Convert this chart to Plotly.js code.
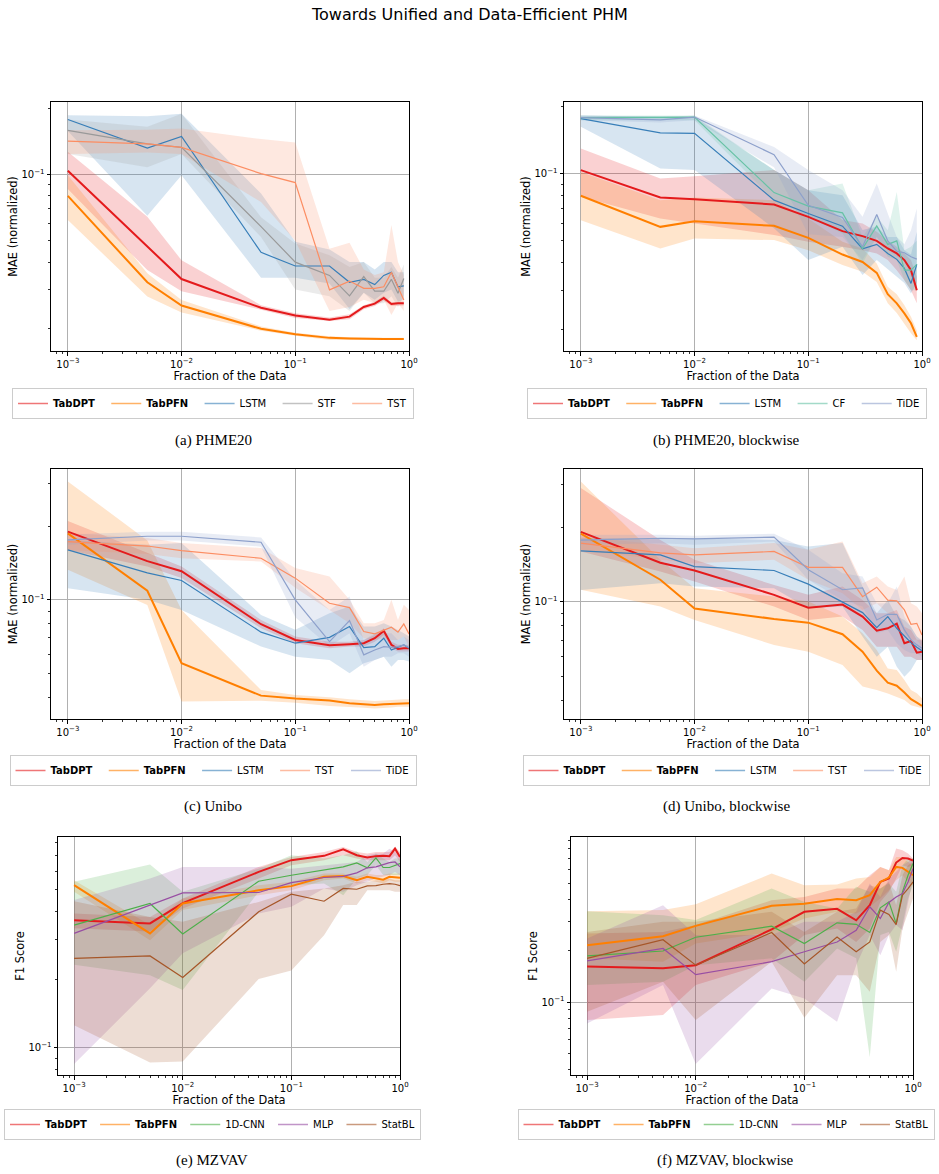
<!DOCTYPE html>
<html>
<head>
<meta charset="utf-8">
<script src="https://cdn.plot.ly/plotly-3.0.1.min.js"></script>
<style>
  html, body { margin: 0; padding: 0; background: #ffffff; }
  #chart { width: 939px; height: 1174px; }
</style>
</head>
<body>
<div id="chart"></div>
<script>
// ---------- data: fraction of training data used ----------
const fracShort = [0.001, 0.005, 0.01, 0.05, 0.1, 0.2, 0.3, 0.4, 0.5, 0.6, 0.7, 0.8, 0.9];
const fracFull  = [0.001, 0.005, 0.01, 0.05, 0.1, 0.2, 0.3, 0.4, 0.5, 0.6, 0.7, 0.8, 0.9, 1.0];

// (a) PHME20 — MAE mean, lower and upper band
const aTabDPT   = [0.104, 0.0473, 0.0335, 0.0248, 0.0229, 0.0219, 0.0226, 0.0250, 0.0259, 0.0275, 0.0258, 0.0260, 0.0260];
const aTabDPTLo = [0.086, 0.0368, 0.0295, 0.0243, 0.0223, 0.0216, 0.0220, 0.0244, 0.0253, 0.0267, 0.0253, 0.0254, 0.0254];
const aTabDPTHi = [0.127, 0.0643, 0.0408, 0.0255, 0.0234, 0.0224, 0.0232, 0.0255, 0.0264, 0.0281, 0.0263, 0.0265, 0.0265];
const aTabPFN   = [0.0800, 0.0324, 0.0254, 0.0199, 0.0188, 0.0181, 0.0180, 0.0179, 0.0179, 0.0179, 0.0179, 0.0179, 0.0179];
const aTabPFNLo = [0.0621, 0.0279, 0.0236, 0.0195, 0.0185, 0.0177, 0.0177, 0.0177, 0.0177, 0.0177, 0.0177, 0.0177, 0.0177];
const aTabPFNHi = [0.0993, 0.0356, 0.0269, 0.0204, 0.0191, 0.0184, 0.0182, 0.0181, 0.0181, 0.0181, 0.0181, 0.0181, 0.0181];
const aLSTM     = [0.178, 0.132, 0.149, 0.0443, 0.0384, 0.0384, 0.0324, 0.0334, 0.0316, 0.0348, 0.0360, 0.0309, 0.0312];
const aLSTMLo   = [0.158, 0.065, 0.0993, 0.0340, 0.0340, 0.0320, 0.0245, 0.0290, 0.0270, 0.0290, 0.0300, 0.0265, 0.0270];
const aLSTMHi   = [0.186, 0.184, 0.189, 0.082, 0.0495, 0.0457, 0.0400, 0.0400, 0.0370, 0.0400, 0.0400, 0.0360, 0.0360];
const aSTF      = [0.159, 0.138, 0.133, 0.058, 0.040, 0.0348, 0.0281, 0.0344, 0.0295, 0.0295, 0.0334, 0.0289, 0.0337];
const aSTFLo    = [0.124, 0.108, 0.124, 0.052, 0.030, 0.028, 0.024, 0.029, 0.026, 0.026, 0.028, 0.025, 0.028];
const aSTFHi    = [0.178, 0.165, 0.189, 0.064, 0.0486, 0.043, 0.038, 0.040, 0.034, 0.034, 0.038, 0.034, 0.039];
const aTST      = [0.142, 0.138, 0.133, 0.101, 0.092, 0.0299, 0.0328, 0.0304, 0.0304, 0.0309, 0.0360, 0.0310, 0.0269];
const aTSTLo    = [0.124, 0.126, 0.124, 0.075, 0.050, 0.0240, 0.0250, 0.0270, 0.0260, 0.0270, 0.0230, 0.0260, 0.0240];
const aTSTHi    = [0.159, 0.160, 0.162, 0.145, 0.140, 0.046, 0.049, 0.037, 0.035, 0.036, 0.059, 0.040, 0.035];

// (b) PHME20, blockwise
const bTabDPT   = [0.104, 0.0783, 0.0770, 0.0728, 0.0641, 0.0553, 0.0525, 0.0500, 0.0462, 0.0439, 0.0410, 0.0369, 0.0300];
const bTabDPTLo = [0.079, 0.063, 0.0598, 0.0531, 0.0495, 0.0470, 0.0454, 0.0439, 0.0410, 0.0369, 0.0333, 0.0300, 0.0262];
const bTabDPTHi = [0.130, 0.0953, 0.0976, 0.104, 0.0845, 0.0620, 0.0598, 0.0549, 0.0500, 0.0470, 0.0439, 0.0410, 0.0345];
const bTabPFN   = [0.0797, 0.0578, 0.0613, 0.0584, 0.0516, 0.0434, 0.0402, 0.0359, 0.0288, 0.0262, 0.0236, 0.0213, 0.0185];
const bTabPFNLo = [0.0619, 0.0462, 0.0512, 0.0504, 0.0454, 0.0389, 0.0363, 0.0327, 0.0262, 0.0237, 0.0213, 0.0192, 0.0179];
const bTabPFNHi = [0.102, 0.0762, 0.0783, 0.0762, 0.0630, 0.0495, 0.0462, 0.0396, 0.0311, 0.0288, 0.0257, 0.0228, 0.0198];
const bLSTM     = [0.177, 0.153, 0.152, 0.0762, 0.0664, 0.0582, 0.0461, 0.0482, 0.0439, 0.0413, 0.0376, 0.0322, 0.0392];
const bLSTMLo   = [0.163, 0.1056, 0.104, 0.057, 0.041, 0.047, 0.0351, 0.041, 0.037, 0.0345, 0.0323, 0.0290, 0.0323];
const bLSTMHi   = [0.183, 0.180, 0.180, 0.104, 0.0845, 0.0802, 0.056, 0.058, 0.052, 0.052, 0.0454, 0.0434, 0.055];
const bCF       = [0.179, 0.179, 0.180, 0.0824, 0.0716, 0.0668, 0.0462, 0.0584, 0.0482, 0.0500, 0.0369, 0.0369, 0.0392];
const bCFLo     = [0.174, 0.174, 0.174, 0.0762, 0.0641, 0.0540, 0.0396, 0.0521, 0.0424, 0.0410, 0.0333, 0.0300, 0.0300];
const bCFHi     = [0.183, 0.183, 0.183, 0.104, 0.0845, 0.0905, 0.0521, 0.0641, 0.0558, 0.0830, 0.0454, 0.0470, 0.0500];
const bTiDE     = [0.179, 0.175, 0.180, 0.122, 0.0723, 0.0637, 0.0470, 0.0657, 0.0500, 0.0449, 0.0442, 0.0424, 0.0414];
const bTiDELo   = [0.174, 0.170, 0.174, 0.107, 0.0535, 0.0521, 0.0410, 0.0521, 0.0454, 0.0424, 0.0410, 0.0345, 0.0300];
const bTiDEHi   = [0.183, 0.180, 0.183, 0.132, 0.104, 0.0845, 0.0641, 0.0905, 0.0663, 0.0521, 0.0483, 0.0558, 0.0699];

// (c) Unibo
const cTabDPT   = [0.190, 0.144, 0.131, 0.0795, 0.0686, 0.0652, 0.0659, 0.0665, 0.0697, 0.0747, 0.0655, 0.0630, 0.0634, 0.0634];
const cTabDPTLo = [0.160, 0.137, 0.123, 0.0766, 0.0665, 0.0634, 0.0644, 0.0644, 0.0675, 0.0719, 0.0634, 0.0615, 0.0615, 0.0615];
const cTabDPTHi = [0.210, 0.155, 0.137, 0.0828, 0.0708, 0.0675, 0.0675, 0.0686, 0.0719, 0.0766, 0.0675, 0.0655, 0.0655, 0.0655];
const cTabPFN   = [0.187, 0.109, 0.0551, 0.0406, 0.0395, 0.0388, 0.0378, 0.0374, 0.0372, 0.0374, 0.0375, 0.0378, 0.0378, 0.0378];
const cTabPFNLo = [0.1327, 0.0953, 0.0384, 0.0387, 0.0380, 0.0368, 0.0365, 0.0362, 0.0360, 0.0362, 0.0363, 0.0366, 0.0366, 0.0366];
const cTabPFNHi = [0.305, 0.175, 0.091, 0.0428, 0.0408, 0.0400, 0.0392, 0.0388, 0.0386, 0.0388, 0.0390, 0.0392, 0.0392, 0.0392];
const cLSTM     = [0.160, 0.129, 0.120, 0.0738, 0.0665, 0.0703, 0.0778, 0.0638, 0.0644, 0.0697, 0.0624, 0.0638, 0.0655, 0.0634];
const cLSTMLo   = [0.1116, 0.100, 0.091, 0.0644, 0.0586, 0.0568, 0.0501, 0.0551, 0.0568, 0.0586, 0.0533, 0.0568, 0.0568, 0.0560];
const cLSTMHi   = [0.176, 0.168, 0.1706, 0.0868, 0.0754, 0.0882, 0.0939, 0.0778, 0.0778, 0.0803, 0.0778, 0.0754, 0.0731, 0.0708];
const cTST      = [0.173, 0.166, 0.159, 0.148, 0.1227, 0.0969, 0.0930, 0.0742, 0.0726, 0.0749, 0.0773, 0.0738, 0.0797, 0.0726];
const cTSTLo    = [0.160, 0.154, 0.148, 0.1435, 0.112, 0.091, 0.0803, 0.0697, 0.0686, 0.0697, 0.0686, 0.0686, 0.0708, 0.0644];
const cTSTHi    = [0.1875, 0.179, 0.1706, 0.163, 0.135, 0.1246, 0.100, 0.0803, 0.0803, 0.0828, 0.100, 0.0828, 0.0954, 0.091];
const cTiDE     = [0.176, 0.182, 0.182, 0.172, 0.100, 0.0675, 0.0823, 0.0596, 0.0624, 0.0644, 0.0640, 0.0644, 0.0655, 0.0638];
const cTiDELo   = [0.168, 0.175, 0.175, 0.165, 0.085, 0.0644, 0.0731, 0.0533, 0.0568, 0.0586, 0.0586, 0.0605, 0.0605, 0.0586];
const cTiDEHi   = [0.185, 0.190, 0.190, 0.180, 0.1207, 0.091, 0.1032, 0.0686, 0.0731, 0.0731, 0.0731, 0.0686, 0.0708, 0.0686];

// (d) Unibo, blockwise
const dTabDPT   = [0.192, 0.144, 0.134, 0.1068, 0.0948, 0.0975, 0.0872, 0.0765, 0.0782, 0.0817, 0.0680, 0.0695, 0.0623, 0.0628];
const dTabDPTLo = [0.160, 0.1327, 0.121, 0.0957, 0.0845, 0.0872, 0.0770, 0.0659, 0.0659, 0.0659, 0.0600, 0.0600, 0.0582, 0.0582];
const dTabDPTHi = [0.289, 0.178, 0.148, 0.117, 0.1068, 0.1154, 0.1019, 0.0900, 0.0900, 0.0928, 0.0794, 0.0770, 0.0702, 0.0702];
const dTabPFN   = [0.189, 0.123, 0.094, 0.0853, 0.0824, 0.0740, 0.0629, 0.0527, 0.0471, 0.0458, 0.0430, 0.0404, 0.0391, 0.0379];
const dTabPFNLo = [0.112, 0.0957, 0.0845, 0.0669, 0.0629, 0.0555, 0.0454, 0.0440, 0.0426, 0.0413, 0.0401, 0.0382, 0.0376, 0.0371];
const dTabPFNHi = [0.307, 0.148, 0.1136, 0.1051, 0.1003, 0.0872, 0.0746, 0.0639, 0.0538, 0.0530, 0.0483, 0.0440, 0.0427, 0.0407];
const dLSTM     = [0.161, 0.155, 0.139, 0.134, 0.118, 0.0994, 0.0905, 0.0787, 0.0872, 0.0782, 0.0724, 0.0684, 0.0655, 0.0635];
const dLSTMLo   = [0.1118, 0.119, 0.1154, 0.1136, 0.0943, 0.0957, 0.0724, 0.0600, 0.0659, 0.0547, 0.0498, 0.0530, 0.0582, 0.0582];
const dLSTMHi   = [0.181, 0.181, 0.181, 0.178, 0.1676, 0.173, 0.1154, 0.0900, 0.1019, 0.0872, 0.0845, 0.0794, 0.0724, 0.0691];
const dTST      = [0.173, 0.158, 0.155, 0.160, 0.138, 0.138, 0.105, 0.1147, 0.1016, 0.1010, 0.0928, 0.0812, 0.0819, 0.0735];
const dTSTLo    = [0.1625, 0.148, 0.1434, 0.148, 0.1228, 0.1084, 0.0928, 0.0988, 0.0900, 0.0872, 0.0746, 0.0702, 0.0702, 0.0659];
const dTSTHi    = [0.184, 0.170, 0.165, 0.173, 0.1625, 0.1756, 0.1190, 0.1267, 0.1154, 0.1118, 0.1267, 0.0988, 0.0957, 0.0900];
const dTiDE     = [0.178, 0.181, 0.180, 0.183, 0.135, 0.112, 0.114, 0.0845, 0.0891, 0.0891, 0.0770, 0.0702, 0.0670, 0.0649];
const dTiDELo   = [0.1703, 0.1729, 0.1703, 0.1756, 0.1228, 0.1019, 0.0957, 0.0746, 0.0770, 0.0680, 0.0639, 0.0620, 0.0620, 0.0600];
const dTiDEHi   = [0.187, 0.187, 0.1852, 0.1887, 0.1625, 0.1307, 0.1267, 0.0988, 0.0988, 0.1154, 0.0872, 0.0794, 0.0724, 0.0701];

// (e) MZVAV — F1 score
const eTabDPT   = [0.365, 0.353, 0.434, 0.595, 0.670, 0.700, 0.748, 0.704, 0.688, 0.698, 0.700, 0.698, 0.753, 0.692];
const eTabDPTLo = [0.336, 0.325, 0.411, 0.556, 0.637, 0.670, 0.704, 0.681, 0.670, 0.670, 0.670, 0.670, 0.704, 0.658];
const eTabDPTHi = [0.390, 0.377, 0.454, 0.626, 0.692, 0.728, 0.766, 0.728, 0.716, 0.728, 0.728, 0.728, 0.766, 0.728];
const eTabPFN   = [0.520, 0.319, 0.432, 0.494, 0.515, 0.566, 0.571, 0.547, 0.566, 0.556, 0.550, 0.566, 0.562, 0.560];
const eTabPFNLo = [0.486, 0.298, 0.404, 0.470, 0.494, 0.547, 0.556, 0.529, 0.547, 0.538, 0.529, 0.547, 0.538, 0.538];
const eTabPFNHi = [0.547, 0.347, 0.454, 0.520, 0.538, 0.585, 0.585, 0.566, 0.585, 0.576, 0.576, 0.585, 0.585, 0.585];
const eCNN      = [0.347, 0.432, 0.317, 0.541, 0.575, 0.605, 0.626, 0.652, 0.620, 0.686, 0.622, 0.622, 0.636, 0.647];
const eCNNLo    = [0.232, 0.209, 0.180, 0.486, 0.520, 0.529, 0.470, 0.556, 0.576, 0.637, 0.576, 0.576, 0.576, 0.576];
const eCNNHi    = [0.538, 0.641, 0.486, 0.615, 0.704, 0.681, 0.704, 0.733, 0.658, 0.716, 0.681, 0.658, 0.681, 0.681];
const eMLP      = [0.319, 0.425, 0.481, 0.483, 0.534, 0.562, 0.569, 0.589, 0.620, 0.626, 0.641, 0.654, 0.658, 0.626];
const eMLPLo    = [0.085, 0.183, 0.261, 0.390, 0.418, 0.503, 0.486, 0.520, 0.538, 0.556, 0.566, 0.576, 0.595, 0.576];
const eMLPHi    = [0.447, 0.556, 0.626, 0.626, 0.615, 0.637, 0.647, 0.658, 0.704, 0.716, 0.716, 0.753, 0.728, 0.692];
const eStatBL   = [0.248, 0.254, 0.204, 0.397, 0.475, 0.442, 0.503, 0.499, 0.516, 0.518, 0.525, 0.528, 0.525, 0.518];
const eStatBLLo = [0.126, 0.0862, 0.0871, 0.201, 0.219, 0.3135, 0.425, 0.425, 0.494, 0.494, 0.494, 0.494, 0.486, 0.486];
const eStatBLHi = [0.442, 0.377, 0.359, 0.439, 0.486, 0.503, 0.520, 0.538, 0.538, 0.547, 0.547, 0.556, 0.547, 0.547];

// (f) MZVAV, blockwise
const fTabDPT   = [0.162, 0.158, 0.165, 0.268, 0.340, 0.354, 0.303, 0.372, 0.510, 0.534, 0.663, 0.706, 0.700, 0.681];
const fTabDPTLo = [0.0784, 0.0839, 0.126, 0.1727, 0.248, 0.271, 0.226, 0.271, 0.389, 0.446, 0.534, 0.640, 0.625, 0.640];
const fTabDPTHi = [0.2535, 0.259, 0.284, 0.398, 0.416, 0.466, 0.466, 0.558, 0.625, 0.598, 0.801, 0.783, 0.749, 0.700];
const fTabPFN   = [0.216, 0.244, 0.281, 0.369, 0.379, 0.404, 0.398, 0.426, 0.510, 0.541, 0.625, 0.617, 0.585, 0.558];
const fTabPFNLo = [0.181, 0.1727, 0.221, 0.259, 0.311, 0.340, 0.3325, 0.364, 0.407, 0.456, 0.522, 0.558, 0.510, 0.488];
const fTabPFNHi = [0.343, 0.348, 0.377, 0.571, 0.488, 0.492, 0.534, 0.546, 0.625, 0.598, 0.716, 0.716, 0.669, 0.640];
const fCNN      = [0.187, 0.200, 0.241, 0.280, 0.221, 0.293, 0.287, 0.257, 0.359, 0.389, 0.290, 0.446, 0.558, 0.654];
const fCNNLo    = [0.126, 0.1317, 0.165, 0.181, 0.1317, 0.207, 0.181, 0.0473, 0.248, 0.259, 0.198, 0.284, 0.407, 0.488];
const fCNNHi    = [0.343, 0.325, 0.304, 0.466, 0.389, 0.356, 0.477, 0.446, 0.466, 0.499, 0.446, 0.640, 0.700, 0.700];
const fMLP      = [0.175, 0.207, 0.145, 0.173, 0.198, 0.226, 0.265, 0.364, 0.311, 0.386, 0.416, 0.436, 0.510, 0.611];
const fMLPLo    = [0.0749, 0.126, 0.0432, 0.1204, 0.1051, 0.0766, 0.165, 0.248, 0.189, 0.248, 0.284, 0.265, 0.389, 0.534];
const fMLPHi    = [0.237, 0.372, 0.248, 0.248, 0.297, 0.297, 0.340, 0.499, 0.416, 0.534, 0.585, 0.640, 0.669, 0.700];
const fStatBL   = [0.181, 0.233, 0.165, 0.257, 0.168, 0.242, 0.198, 0.226, 0.348, 0.328, 0.286, 0.426, 0.466, 0.510];
const fStatBLLo = [0.0877, 0.1317, 0.0784, 0.1727, 0.0809, 0.144, 0.144, 0.1151, 0.226, 0.248, 0.1509, 0.271, 0.340, 0.407];
const fStatBLHi = [0.259, 0.297, 0.297, 0.340, 0.259, 0.340, 0.356, 0.488, 0.466, 0.510, 0.372, 0.558, 0.640, 0.669];

// ---------- styling ----------
const FONT = 'DejaVu Sans, Verdana, sans-serif';
const SERIF = 'Liberation Serif, Times New Roman, serif';
const W = 939, H = 1174;
const px = v => v / W;
const py = v => 1 - v / H;

const STYLE = {
  'TabDPT': { color: '#e41a1c', width: 2.0, bold: true },
  'TabPFN': { color: '#ff7f00', width: 2.0, bold: true },
  'LSTM':   { color: '#377eb8', width: 1.2 },
  'STF':    { color: '#999999', width: 1.2 },
  'TST':    { color: '#fc8d62', width: 1.2 },
  'CF':     { color: '#66c2a5', width: 1.2 },
  'TiDE':   { color: '#8da0cb', width: 1.2 },
  '1D-CNN': { color: '#4daf4a', width: 1.2 },
  'MLP':    { color: '#984ea3', width: 1.2 },
  'StatBL': { color: '#a65628', width: 1.2 }
};

function rgba(hex, a) {
  const n = parseInt(hex.slice(1), 16);
  return `rgba(${(n >> 16) & 255},${(n >> 8) & 255},${n & 255},${a})`;
}

// panel geometry in page pixels: [left, right, top, bottom]; gap = spacer after legend labels
const panels = [
  { box: [51, 409, 102, 351], yRange: [-1.802, -0.670], yTitle: 'MAE (normalized)', x: fracShort,
    legX: 213, legMid: 403.5, gap: 2, caption: '(a) PHME20', capY: 440,
    series: [['TabDPT', aTabDPT, aTabDPTLo, aTabDPTHi], ['TabPFN', aTabPFN, aTabPFNLo, aTabPFNHi],
             ['LSTM', aLSTM, aLSTMLo, aLSTMHi], ['STF', aSTF, aSTFLo, aSTFHi], ['TST', aTST, aTSTLo, aTSTHi]] },
  { box: [564, 922, 102, 351], yRange: [-1.796, -0.677], yTitle: 'MAE (normalized)', x: fracShort,
    legX: 727, legMid: 403.5, gap: 2, caption: '(b) PHME20, blockwise', capY: 440,
    series: [['TabDPT', bTabDPT, bTabDPTLo, bTabDPTHi], ['TabPFN', bTabPFN, bTabPFNLo, bTabPFNHi],
             ['LSTM', bLSTM, bLSTMLo, bLSTMHi], ['CF', bCF, bCFLo, bCFHi], ['TiDE', bTiDE, bTiDELo, bTiDEHi]] },
  { box: [51, 409, 469, 719], yRange: [-1.487, -0.465], yTitle: 'MAE (normalized)', x: fracFull,
    legX: 213, legMid: 770.5, gap: 2, caption: '(c) Unibo', capY: 806,
    series: [['TabDPT', cTabDPT, cTabDPTLo, cTabDPTHi], ['TabPFN', cTabPFN, cTabPFNLo, cTabPFNHi],
             ['LSTM', cLSTM, cLSTMLo, cLSTMHi], ['TST', cTST, cTSTLo, cTSTHi], ['TiDE', cTiDE, cTiDELo, cTiDEHi]] },
  { box: [564, 922, 469, 719], yRange: [-1.474, -0.462], yTitle: 'MAE (normalized)', x: fracFull,
    legX: 726, legMid: 770.5, gap: 2, caption: '(d) Unibo, blockwise', capY: 806,
    series: [['TabDPT', dTabDPT, dTabDPTLo, dTabDPTHi], ['TabPFN', dTabPFN, dTabPFNLo, dTabPFNHi],
             ['LSTM', dLSTM, dLSTMLo, dLSTMHi], ['TST', dTST, dTSTLo, dTSTHi], ['TiDE', dTiDE, dTiDELo, dTiDEHi]] },
  { box: [58, 400, 837, 1075], yRange: [-1.119, -0.072], yTitle: 'F1 Score', x: fracFull,
    legX: 212.5, legMid: 1124.5, gap: 1, caption: '(e) MZVAV', capY: 1160,
    series: [['TabDPT', eTabDPT, eTabDPTLo, eTabDPTHi], ['TabPFN', eTabPFN, eTabPFNLo, eTabPFNHi],
             ['1D-CNN', eCNN, eCNNLo, eCNNHi], ['MLP', eMLP, eMLPLo, eMLPHi], ['StatBL', eStatBL, eStatBLLo, eStatBLHi]] },
  { box: [571, 913, 837, 1075], yRange: [-1.429, -0.028], yTitle: 'F1 Score', x: fracFull,
    legX: 726, legMid: 1124.5, gap: 1, caption: '(f) MZVAV, blockwise', capY: 1160,
    series: [['TabDPT', fTabDPT, fTabDPTLo, fTabDPTHi], ['TabPFN', fTabPFN, fTabPFNLo, fTabPFNHi],
             ['1D-CNN', fCNN, fCNNLo, fCNNHi], ['MLP', fMLP, fMLPLo, fMLPHi], ['StatBL', fStatBL, fStatBLLo, fStatBLHi]] }
];

// minor tick positions on log axes (2..9 within each decade)
const minorVals = [];
for (let e = -4; e <= 0; e++) for (let m = 2; m <= 9; m++) minorVals.push(m * Math.pow(10, e));

const bands = [], lines = [], legendItems = [];
const layout = {
  width: W, height: H,
  margin: { l: 0, r: 0, t: 0, b: 0, autoexpand: false },
  paper_bgcolor: '#ffffff', plot_bgcolor: '#ffffff',
  font: { family: FONT, size: 10, color: '#000000' },
  showlegend: true,
  annotations: [{
    text: 'Towards Unified and Data-Efficient PHM', xref: 'paper', yref: 'paper',
    x: 0.5, y: py(14), xanchor: 'center', yanchor: 'middle', showarrow: false,
    font: { family: FONT, size: 16, color: '#000' }
  }]
};

panels.forEach((p, i) => {
  const n = i + 1;
  const xa = n === 1 ? 'x' : 'x' + n;
  const ya = n === 1 ? 'y' : 'y' + n;
  const lg = n === 1 ? 'legend' : 'legend' + n;
  const spacer = '&nbsp;'.repeat(p.gap);

  p.series.forEach(([name, mean, lo, hi], k) => {
    const st = STYLE[name];
    bands.push({
      type: 'scatter', mode: 'lines', xaxis: xa, yaxis: ya,
      x: p.x.concat(p.x.slice().reverse()),
      y: hi.concat(lo.slice().reverse()),
      fill: 'toself', fillcolor: rgba(st.color, 0.2),
      line: { width: 0, color: rgba(st.color, 0) },
      hoverinfo: 'skip', showlegend: false
    });
    lines.push({
      type: 'scatter', mode: 'lines', xaxis: xa, yaxis: ya,
      x: p.x, y: mean, line: { color: st.color, width: st.width },
      hoverinfo: 'skip', showlegend: false
    });
    // legend-only entry; a little trailing space widens the column gap
    const label = (st.bold ? '<b>' + name + '</b>' : name) + (k < p.series.length - 1 ? spacer : '');
    legendItems.push({
      type: 'scatter', mode: 'lines', xaxis: xa, yaxis: ya,
      x: [null], y: [null], legend: lg, showlegend: true,
      name: label,
      line: { color: rgba(st.color, 0.6), width: 1.5 }
    });
  });

  const [l, r, t, b] = p.box;
  const common = {
    type: 'log', automargin: false, showline: true, mirror: true, linecolor: '#000000', linewidth: 1,
    ticks: 'outside', ticklen: 3.5, tickwidth: 1, tickcolor: '#000000',
    showgrid: true, gridcolor: '#b0b0b0', gridwidth: 1, zeroline: false,
    tickfont: { family: FONT, size: 10, color: '#000' },
    minor: { tickmode: 'array', tickvals: minorVals, ticks: 'outside', ticklen: 2,
             tickwidth: 0.8, tickcolor: '#000000', showgrid: false }
  };
  layout['xaxis' + (n === 1 ? '' : n)] = Object.assign({}, common, {
    domain: [px(l), px(r)], anchor: ya, range: [-3.148, 0],
    tickmode: 'array', tickvals: [0.001, 0.01, 0.1, 1],
    ticktext: ['10<sup>−3</sup>', '10<sup>−2</sup>', '10<sup>−1</sup>', '10<sup>0</sup>'],
    title: { text: 'Fraction of the Data', font: { family: FONT, size: 11.4, color: '#000' }, standoff: 2 }
  });
  layout['yaxis' + (n === 1 ? '' : n)] = Object.assign({}, common, {
    domain: [py(b), py(t)], anchor: xa, range: p.yRange,
    tickmode: 'array', tickvals: [0.1], ticktext: ['10<sup>−1</sup>'],
    title: { text: p.yTitle, font: { family: FONT, size: 11.4, color: '#000' }, standoff: 1 }
  });
  layout[lg] = {
    x: px(p.legX), y: py(p.legMid), xanchor: 'center', yanchor: 'middle',
    orientation: 'h', bgcolor: '#ffffff', bordercolor: '#cccccc', borderwidth: 1,
    font: { family: FONT, size: 10, color: '#000' }, itemwidth: 30
  };
  layout.annotations.push({
    text: p.caption, xref: 'paper', yref: 'paper',
    x: px((l + r) / 2 - 17), y: py(p.capY), xanchor: 'center', yanchor: 'middle', showarrow: false,
    font: { family: SERIF, size: 15, color: '#000' }
  });
});

// bands sit beneath every mean line
Plotly.newPlot('chart', bands.concat(lines, legendItems), layout, { displayModeBar: false, staticPlot: true });
</script>
</body>
</html>
